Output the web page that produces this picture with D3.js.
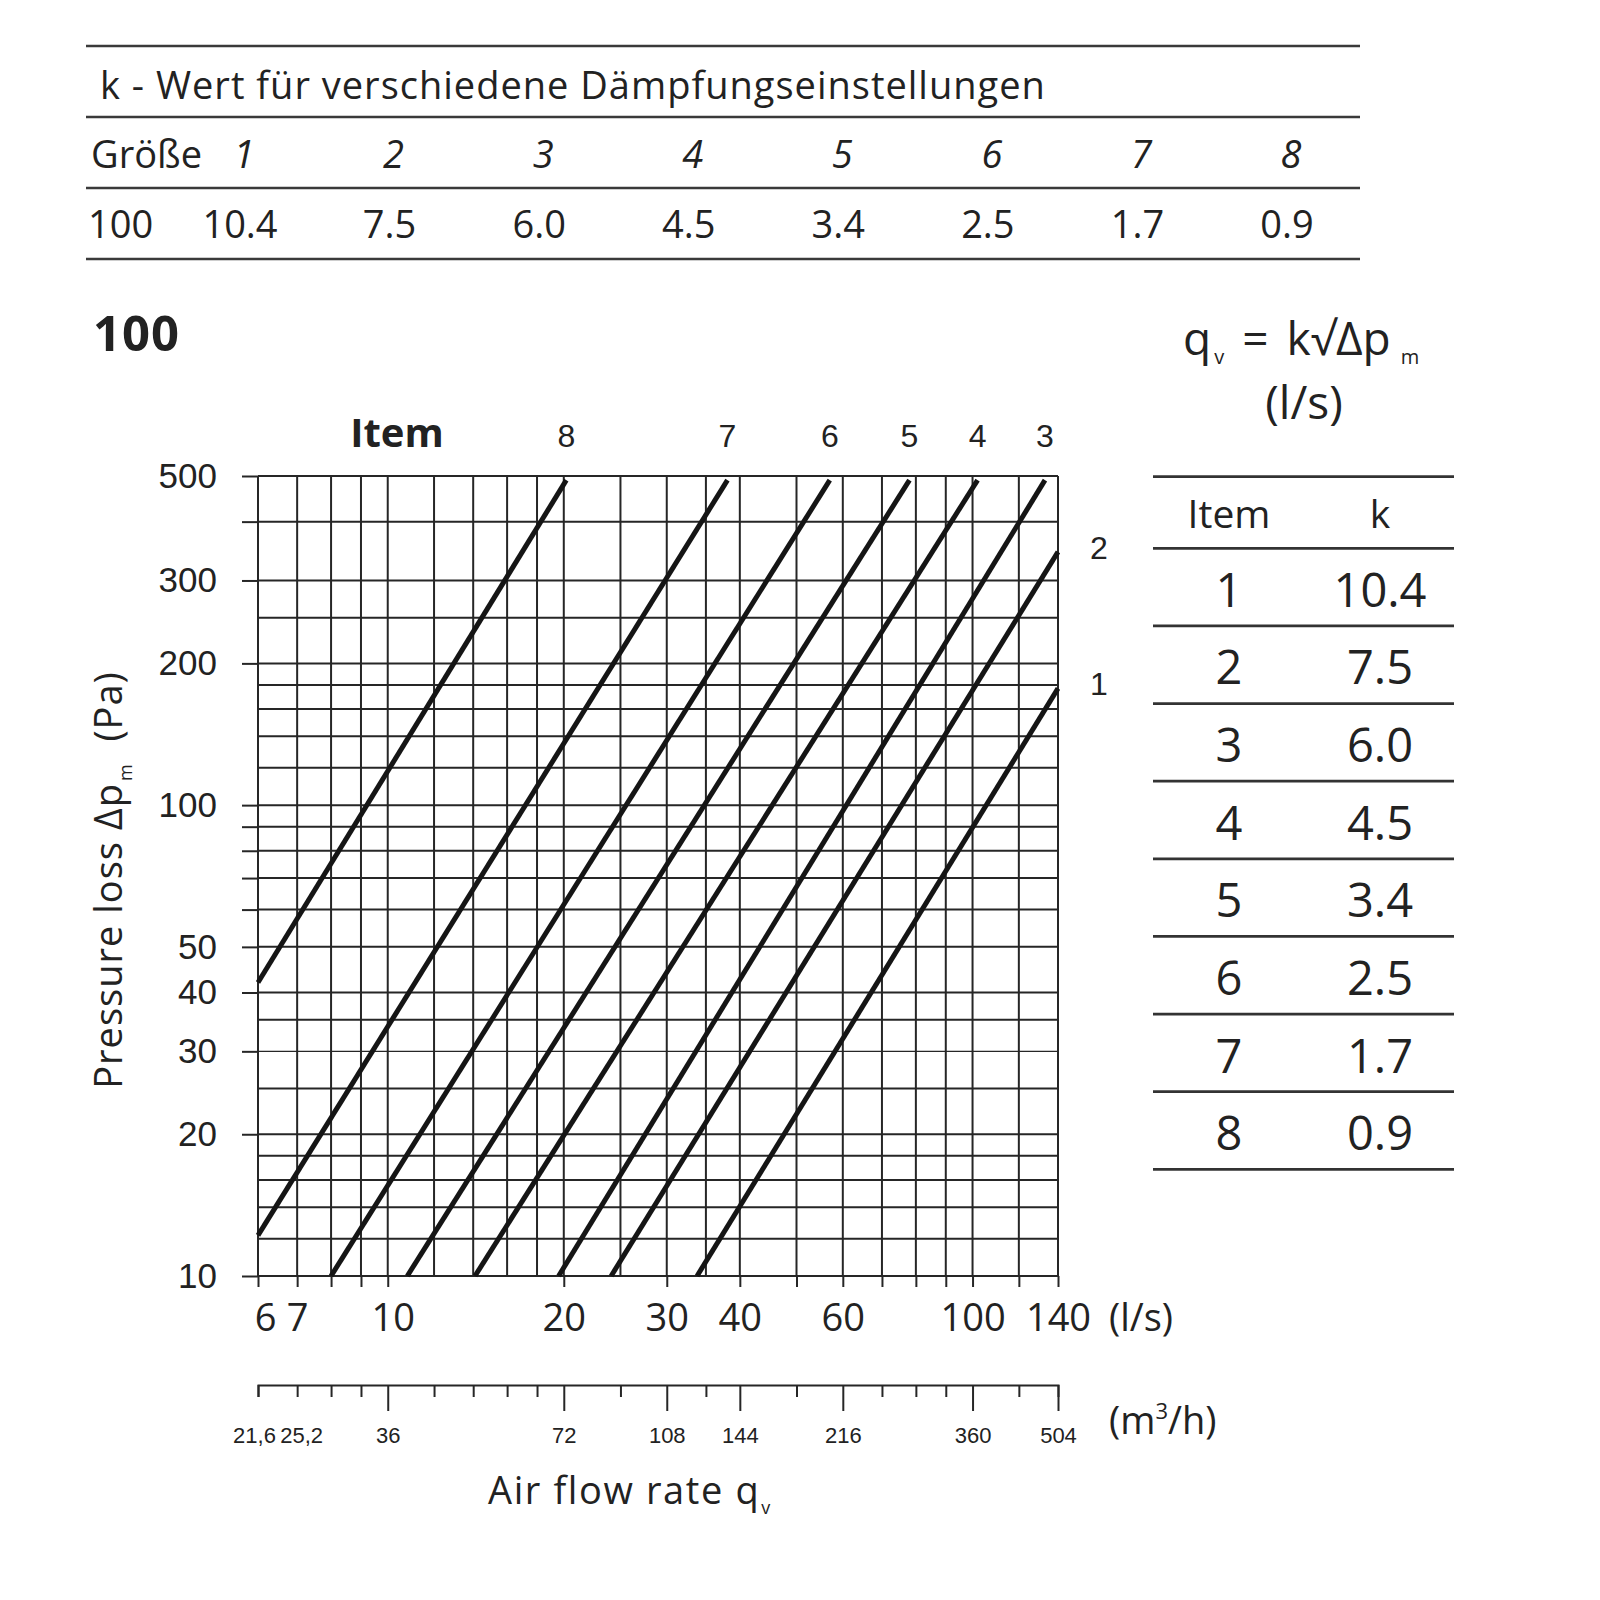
<!DOCTYPE html>
<html><head><meta charset="utf-8">
<script src="https://cdn.jsdelivr.net/npm/d3@7"></script>
<style>
body{margin:0;background:#fff;}
svg text{fill:#222;}
</style></head><body>
<svg id="chart" width="1600" height="1600"></svg>
<script>
// ---------- data ----------
const tableTitle = "k - Wert für verschiedene Dämpfungseinstellungen";
const sizeLabel = "100";
const items = ["1","2","3","4","5","6","7","8"];
const kValues = ["10.4","7.5","6.0","4.5","3.4","2.5","1.7","0.9"];
// curves: [air flow q (l/s), pressure loss Δp (Pa)]
const curveItems = ["8","7","6","5","4","3","2","1"];
const curveStart = [[6,42],[6,12.2],[8.0,10],[10.8,10],[14.1,10],[19.6,10],[24.1,10],[33.8,10]];
const curveEnd   = [[20.2,490],[38.1,490],[57,490],[78,490],[102,490],[133,490],[140,345],[140,177]];
// axes
const xGrid = [6,7,8,9,10,12,14,16,18,20,25,30,35,40,50,60,70,80,90,100,120,140];
const xTicks = [6,7,8,9,10,20,30,40,50,60,70,80,90,100,120,140];
const xLabels = [6,7,10,20,30,40,60,100,140];
const yGrid = [10,12,14,16,18,20,25,30,35,40,50,60,70,80,90,100,120,140,160,180,200,250,300,400,500];
const yTicks = [10,20,30,40,50,60,70,80,90,100,200,300,400,500];
const yLabels = [10,20,30,40,50,100,200,300,500];
const m3hTicks = [21.6,25.2,28.8,32.4,36,43.2,50.4,57.6,64.8,72,90,108,126,144,180,216,252,288,324,360,432,504];
const m3hLabels = [21.6,25.2,36,72,108,144,216,360,504];
const m3hLong = [36,72,108,144,216,360,504];

// ---------- drawing ----------
const svg = d3.select("#chart");
const SANS = "'Open Sans', 'Noto Sans', sans-serif";
const ARIAL = "'Liberation Sans', Arial, sans-serif";
const INK = "#222";
const GRID = "#262626";

// ---- top table ----
const tt = svg.append("g");
[46,117,188,259].forEach(yy => tt.append("line").attr("x1",86).attr("x2",1360).attr("y1",yy).attr("y2",yy)
  .attr("stroke","#3a3a3a").attr("stroke-width",2.6));
tt.append("text").attr("x",100).attr("y",99).attr("font-family",SANS).attr("font-size",38)
  .attr("letter-spacing",1).text(tableTitle);
tt.append("text").attr("x",91).attr("y",168).attr("font-family",SANS).attr("font-size",38).text("Größe");
tt.append("text").attr("x",88).attr("y",238).attr("font-family",SANS).attr("font-size",38).text(sizeLabel);
const colX = d3.scaleLinear().domain([0,7]).range([244,1291]);
tt.selectAll(".hdr").data(items).join("text").attr("class","hdr")
  .attr("x",(d,i)=>colX(i)).attr("y",168).attr("text-anchor","middle")
  .attr("font-family",SANS).attr("font-style","italic").attr("font-size",38).text(d=>d);
tt.selectAll(".val").data(kValues).join("text").attr("class","val")
  .attr("x",(d,i)=>colX(i)-4).attr("y",238).attr("text-anchor","middle")
  .attr("font-family",SANS).attr("font-size",38).text(d=>d);

// ---- size heading ----
svg.append("text").attr("x",93).attr("y",351).attr("font-family",SANS).attr("font-weight","bold")
  .attr("font-size",49).attr("letter-spacing",1).text(sizeLabel);

// ---- formula ----
const f = svg.append("text").attr("x",1183).attr("y",355).attr("font-family",SANS).attr("font-size",46);
f.append("tspan").text("q");
f.append("tspan").attr("font-size",20).attr("dy",9).attr("dx",3).text("v");
f.append("tspan").attr("dy",-9).attr("dx",18).text("=");
f.append("tspan").attr("dx",18).text("k√Δp");
f.append("tspan").attr("font-size",20).attr("dy",9).attr("dx",10).text("m");
svg.append("text").attr("x",1304).attr("y",419).attr("text-anchor","middle")
  .attr("font-family",SANS).attr("font-size",46).text("(l/s)");

// ---- right table ----
const rt = svg.append("g");
const ruleY = d3.scaleLinear().domain([1,9]).range([548.3,1169.3]);
[476.7].concat(d3.range(1,10).map(ruleY)).forEach(yy => rt.append("line").attr("x1",1153).attr("x2",1454)
  .attr("y1",yy).attr("y2",yy).attr("stroke","#333").attr("stroke-width",2.8));
rt.append("text").attr("x",1229).attr("y",528).attr("text-anchor","middle").attr("font-family",SANS).attr("font-size",39).text("Item");
rt.append("text").attr("x",1380).attr("y",528).attr("text-anchor","middle").attr("font-family",SANS).attr("font-size",39).text("k");
rt.selectAll(".ri").data(items).join("text").attr("class","ri")
  .attr("x",1229).attr("y",(d,i)=>ruleY(i+1)+58.5).attr("text-anchor","middle")
  .attr("font-family",SANS).attr("font-size",47).text(d=>d);
rt.selectAll(".rk").data(kValues).join("text").attr("class","rk")
  .attr("x",1380).attr("y",(d,i)=>ruleY(i+1)+58.5).attr("text-anchor","middle")
  .attr("font-family",SANS).attr("font-size",47).text(d=>d);

// ---- chart ----
const x = d3.scaleLog().domain([6,140]).range([258,1058]);
const y = d3.scaleLog().domain([10,500]).range([1276,476]);
const xm = d3.scaleLog().domain([21.6,504]).range([258,1058]);

const grid = svg.append("g");
grid.selectAll(".vg").data(xGrid).join("line").attr("class","vg")
  .attr("x1",d=>x(d)).attr("x2",d=>x(d)).attr("y1",y(10)).attr("y2",y(500))
  .attr("stroke",GRID).attr("stroke-width",2);
grid.selectAll(".hg").data(yGrid).join("line").attr("class","hg")
  .attr("x1",x(6)).attr("x2",x(140)).attr("y1",d=>y(d)).attr("y2",d=>y(d))
  .attr("stroke",GRID).attr("stroke-width",d=>d===30?1.4:2);

// x axis (l/s)
const xa = svg.append("g").attr("transform",`translate(0,${y(10)})`)
  .call(d3.axisBottom(x).tickValues(xTicks).tickSize(11).tickSizeOuter(0).tickPadding(17)
    .tickFormat(d => xLabels.includes(d) ? d : ""));
xa.select(".domain").remove();
xa.selectAll(".tick line").attr("stroke",GRID).attr("stroke-width",2);
xa.selectAll(".tick text").attr("font-family",SANS).attr("font-size",38).attr("fill",INK)
  .attr("dx",d => d===6 ? 7 : (d===10 ? 5 : 0));
svg.append("text").attr("x",1109).attr("y",1331).attr("font-family",SANS).attr("font-size",38).text("(l/s)");

// y axis
const ya = svg.append("g").attr("transform",`translate(${x(6)},0)`)
  .call(d3.axisLeft(y).tickValues(yTicks).tickSize(16).tickSizeOuter(0).tickPadding(25)
    .tickFormat(d => yLabels.includes(d) ? d : ""));
ya.select(".domain").remove();
ya.selectAll(".tick line").attr("stroke",GRID).attr("stroke-width",2);
ya.selectAll(".tick text").attr("font-family",ARIAL).attr("font-size",35).attr("fill","#333");

// m3/h axis
const ma = svg.append("g").attr("transform","translate(0,1385)")
  .call(d3.axisBottom(xm).tickValues(m3hTicks).tickSizeOuter(0).tickSize(12)
    .tickFormat(d => m3hLabels.includes(d) ? String(d).replace(".",",") : ""));
ma.select(".domain").attr("stroke",GRID).attr("stroke-width",2);
ma.selectAll(".tick line").attr("stroke",GRID).attr("stroke-width",2)
  .attr("y2",d => m3hLong.includes(d) ? 26 : 12);
ma.selectAll(".tick text").attr("font-family",ARIAL).attr("font-size",22).attr("fill","#333")
  .attr("y",42).attr("dy","0.71em")
  .attr("dx",d => d===21.6 ? -4 : (d===25.2 ? 4 : 0));
const mu = svg.append("text").attr("x",1109).attr("y",1434).attr("font-family",SANS).attr("font-size",38);
mu.append("tspan").text("(m");
mu.append("tspan").attr("font-size",22).attr("dy",-15).text("3");
mu.append("tspan").attr("dy",15).text("/h)");

// axis titles
const xt = svg.append("text").attr("x",488).attr("y",1504).attr("font-family",SANS).attr("font-size",38)
  .attr("letter-spacing",1.6);
xt.append("tspan").text("Air flow rate q");
xt.append("tspan").attr("font-size",18).attr("dy",10).attr("dx",1).text("v");
const yt = svg.append("text").attr("transform","translate(122,880) rotate(-90)")
  .attr("text-anchor","middle").attr("font-family",SANS).attr("font-size",38).attr("letter-spacing",1);
yt.append("tspan").text("Pressure loss Δp");
yt.append("tspan").attr("font-size",18).attr("dy",10).attr("dx",2).text("m");
yt.append("tspan").attr("dy",-10).text("\u00a0 (Pa)");

// curves
const line = d3.line().x(d=>x(d[0])).y(d=>y(d[1]));
const curves = curveItems.map((it,i)=>({item:it, pts:[curveStart[i], curveEnd[i]]}));
svg.append("g").selectAll("path").data(curves).join("path")
  .attr("d",d=>line(d.pts)).attr("fill","none").attr("stroke","#151515").attr("stroke-width",5);

// curve labels
svg.append("text").attr("x",397).attr("y",447).attr("text-anchor","middle")
  .attr("font-family",SANS).attr("font-weight","bold").attr("font-size",40).text("Item");
svg.append("g").selectAll("text").data(curves).join("text")
  .attr("x",d => d.pts[1][1] >= 490 ? x(d.pts[1][0]) : 1099)
  .attr("y",d => d.pts[1][1] >= 490 ? 447 : y(d.pts[1][1]) + 7)
  .attr("text-anchor","middle").attr("font-family",ARIAL).attr("font-size",32).attr("fill","#333")
  .text(d=>d.item);
</script>
</body></html>
